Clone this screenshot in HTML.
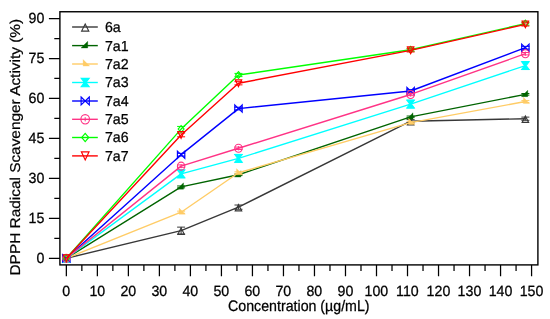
<!DOCTYPE html><html><head><meta charset="utf-8"><title>DPPH Radical Scavenger Activity</title>
<style>html,body{margin:0;padding:0;background:#fff;overflow:hidden;}svg{display:block;}text{text-rendering:geometricPrecision;font-family:"Liberation Sans",Arial,sans-serif;font-size:14.2px;fill:#000;stroke:#000;stroke-width:0.25;}</style></head><body>
<svg width="550" height="319" viewBox="0 0 550 319">
<rect width="550" height="319" fill="#fff"/>
<g>
<polyline points="66.35,258.30 181.11,230.59 238.48,207.15 410.62,121.24 525.37,118.71" fill="none" stroke="#383838" stroke-width="1.40" stroke-linejoin="round"/>
<polygon points="66.35,255.64 69.58,262.00 63.12,262.00" fill="none" stroke="#383838" stroke-width="1.15"/>
<path d="M181.11 227.13V234.06M177.11 227.13h8M177.11 234.06h8" stroke="#383838" stroke-width="1" fill="none"/>
<polygon points="181.11,227.93 184.34,234.30 177.88,234.30" fill="none" stroke="#383838" stroke-width="1.15"/>
<path d="M238.48 205.02V209.28M234.48 205.02h8M234.48 209.28h8" stroke="#383838" stroke-width="1" fill="none"/>
<polygon points="238.48,204.49 241.71,210.86 235.25,210.86" fill="none" stroke="#383838" stroke-width="1.15"/>
<path d="M410.62 119.64V122.84M406.62 119.64h8M406.62 122.84h8" stroke="#383838" stroke-width="1" fill="none"/>
<polygon points="410.62,118.58 413.85,124.94 407.39,124.94" fill="none" stroke="#383838" stroke-width="1.15"/>
<path d="M525.37 117.11V120.30M521.37 117.11h8M521.37 120.30h8" stroke="#383838" stroke-width="1" fill="none"/>
<polygon points="525.37,116.05 528.60,122.41 522.14,122.41" fill="none" stroke="#383838" stroke-width="1.15"/>
</g>
<g>
<polyline points="66.35,258.30 181.11,186.90 238.48,174.78 410.62,116.84 525.37,94.33" fill="none" stroke="#006400" stroke-width="1.40" stroke-linejoin="round"/>
<polygon points="68.75,254.20 68.75,260.60 62.35,260.60" fill="#006400" stroke="#006400" stroke-width="0.30"/>
<path d="M181.11 185.97V187.84M177.11 185.97h8M177.11 187.84h8" stroke="#006400" stroke-width="1" fill="none"/>
<polygon points="183.51,182.80 183.51,189.20 177.11,189.20" fill="#006400" stroke="#006400" stroke-width="0.30"/>
<path d="M238.48 173.98V175.58M234.48 173.98h8M234.48 175.58h8" stroke="#006400" stroke-width="1" fill="none"/>
<polygon points="240.88,170.68 240.88,177.08 234.48,177.08" fill="#006400" stroke="#006400" stroke-width="0.30"/>
<path d="M410.62 116.04V117.64M406.62 116.04h8M406.62 117.64h8" stroke="#006400" stroke-width="1" fill="none"/>
<polygon points="413.02,112.74 413.02,119.14 406.62,119.14" fill="#006400" stroke="#006400" stroke-width="0.30"/>
<path d="M525.37 93.53V95.13M521.37 93.53h8M521.37 95.13h8" stroke="#006400" stroke-width="1" fill="none"/>
<polygon points="527.77,90.23 527.77,96.63 521.37,96.63" fill="#006400" stroke="#006400" stroke-width="0.30"/>
</g>
<g>
<polyline points="66.35,258.30 181.11,212.21 238.48,172.79 410.62,122.57 525.37,101.52" fill="none" stroke="#FFCC66" stroke-width="1.40" stroke-linejoin="round"/>
<polygon points="64.35,254.10 70.55,260.30 64.35,260.30" fill="#FFCC66" stroke="#FFCC66" stroke-width="0.30"/>
<path d="M181.11 211.15V213.28M177.11 211.15h8M177.11 213.28h8" stroke="#FFCC66" stroke-width="1" fill="none"/>
<polygon points="179.11,208.01 185.31,214.21 179.11,214.21" fill="#FFCC66" stroke="#FFCC66" stroke-width="0.30"/>
<path d="M238.48 171.85V173.72M234.48 171.85h8M234.48 173.72h8" stroke="#FFCC66" stroke-width="1" fill="none"/>
<polygon points="236.48,168.59 242.68,174.79 236.48,174.79" fill="#FFCC66" stroke="#FFCC66" stroke-width="0.30"/>
<path d="M410.62 121.64V123.50M406.62 121.64h8M406.62 123.50h8" stroke="#FFCC66" stroke-width="1" fill="none"/>
<polygon points="408.62,118.37 414.82,124.57 408.62,124.57" fill="#FFCC66" stroke="#FFCC66" stroke-width="0.30"/>
<path d="M525.37 100.59V102.46M521.37 100.59h8M521.37 102.46h8" stroke="#FFCC66" stroke-width="1" fill="none"/>
<polygon points="523.37,97.32 529.57,103.52 523.37,103.52" fill="#FFCC66" stroke="#FFCC66" stroke-width="0.30"/>
</g>
<g>
<polyline points="66.35,258.30 181.11,173.85 238.48,158.40 410.62,104.05 525.37,65.56" fill="none" stroke="#00FFFF" stroke-width="1.40" stroke-linejoin="round"/>
<polygon points="62.74,254.50 69.96,254.50 67.11,258.30 69.96,262.10 62.74,262.10 65.59,258.30" fill="#00FFFF" stroke="#00FFFF" stroke-width="1.15"/>
<path d="M181.11 169.86V177.85M177.11 169.86h8M177.11 177.85h8" stroke="#00FFFF" stroke-width="1" fill="none"/>
<polygon points="177.50,170.05 184.72,170.05 181.87,173.85 184.72,177.65 177.50,177.65 180.35,173.85" fill="#00FFFF" stroke="#00FFFF" stroke-width="1.15"/>
<path d="M238.48 154.40V162.40M234.48 154.40h8M234.48 162.40h8" stroke="#00FFFF" stroke-width="1" fill="none"/>
<polygon points="234.87,154.60 242.09,154.60 239.24,158.40 242.09,162.20 234.87,162.20 237.72,158.40" fill="#00FFFF" stroke="#00FFFF" stroke-width="1.15"/>
<path d="M410.62 100.06V108.05M406.62 100.06h8M406.62 108.05h8" stroke="#00FFFF" stroke-width="1" fill="none"/>
<polygon points="407.01,100.25 414.23,100.25 411.38,104.05 414.23,107.85 407.01,107.85 409.86,104.05" fill="#00FFFF" stroke="#00FFFF" stroke-width="1.15"/>
<path d="M525.37 61.56V69.56M521.37 61.56h8M521.37 69.56h8" stroke="#00FFFF" stroke-width="1" fill="none"/>
<polygon points="521.76,61.76 528.98,61.76 526.13,65.56 528.98,69.36 521.76,69.36 524.61,65.56" fill="#00FFFF" stroke="#00FFFF" stroke-width="1.15"/>
</g>
<g>
<polyline points="66.35,258.30 181.11,154.67 238.48,108.58 410.62,91.00 525.37,47.71" fill="none" stroke="#0000FF" stroke-width="1.40" stroke-linejoin="round"/>
<polygon points="62.64,254.69 66.35,258.30 62.64,261.91" fill="none" stroke="#0000FF" stroke-width="1.15"/><polygon points="70.05,254.69 66.35,258.30 70.05,261.91" fill="none" stroke="#0000FF" stroke-width="1.15"/>
<path d="M177.11 153.34h8M177.11 156.00h8" stroke="#0000FF" stroke-width="1" fill="none"/>
<polygon points="177.40,151.06 181.11,154.67 177.40,158.28" fill="none" stroke="#0000FF" stroke-width="1.15"/><polygon points="184.81,151.06 181.11,154.67 184.81,158.28" fill="none" stroke="#0000FF" stroke-width="1.15"/>
<path d="M234.48 107.25h8M234.48 109.92h8" stroke="#0000FF" stroke-width="1" fill="none"/>
<polygon points="234.78,104.97 238.48,108.58 234.78,112.19" fill="none" stroke="#0000FF" stroke-width="1.15"/><polygon points="242.19,104.97 238.48,108.58 242.19,112.19" fill="none" stroke="#0000FF" stroke-width="1.15"/>
<path d="M406.62 89.67h8M406.62 92.33h8" stroke="#0000FF" stroke-width="1" fill="none"/>
<polygon points="406.91,87.39 410.62,91.00 406.91,94.61" fill="none" stroke="#0000FF" stroke-width="1.15"/><polygon points="414.32,87.39 410.62,91.00 414.32,94.61" fill="none" stroke="#0000FF" stroke-width="1.15"/>
<path d="M521.37 46.38h8M521.37 49.04h8" stroke="#0000FF" stroke-width="1" fill="none"/>
<polygon points="521.67,44.10 525.37,47.71 521.67,51.32" fill="none" stroke="#0000FF" stroke-width="1.15"/><polygon points="529.08,44.10 525.37,47.71 529.08,51.32" fill="none" stroke="#0000FF" stroke-width="1.15"/>
</g>
<g>
<polyline points="66.35,258.30 181.11,166.13 238.48,148.28 410.62,94.46 525.37,53.70" fill="none" stroke="#FF3385" stroke-width="1.40" stroke-linejoin="round"/>
<ellipse cx="66.35" cy="258.30" rx="3.69" ry="4.00" fill="none" stroke="#FF3385" stroke-width="1.15"/><path d="M66.35 256.20v4.2" stroke="#FF3385" stroke-width="1"/>
<path d="M177.11 164.93h8M177.11 167.32h8" stroke="#FF3385" stroke-width="1" fill="none"/>
<ellipse cx="181.11" cy="166.13" rx="3.69" ry="4.00" fill="none" stroke="#FF3385" stroke-width="1.15"/><path d="M181.11 164.03v4.2" stroke="#FF3385" stroke-width="1"/>
<path d="M234.48 147.08h8M234.48 149.48h8" stroke="#FF3385" stroke-width="1" fill="none"/>
<ellipse cx="238.48" cy="148.28" rx="3.69" ry="4.00" fill="none" stroke="#FF3385" stroke-width="1.15"/><path d="M238.48 146.18v4.2" stroke="#FF3385" stroke-width="1"/>
<path d="M406.62 93.27h8M406.62 95.66h8" stroke="#FF3385" stroke-width="1" fill="none"/>
<ellipse cx="410.62" cy="94.46" rx="3.69" ry="4.00" fill="none" stroke="#FF3385" stroke-width="1.15"/><path d="M410.62 92.36v4.2" stroke="#FF3385" stroke-width="1"/>
<path d="M521.37 52.51h8M521.37 54.90h8" stroke="#FF3385" stroke-width="1" fill="none"/>
<ellipse cx="525.37" cy="53.70" rx="3.69" ry="4.00" fill="none" stroke="#FF3385" stroke-width="1.15"/><path d="M525.37 51.60v4.2" stroke="#FF3385" stroke-width="1"/>
</g>
<g>
<polyline points="66.35,258.30 181.11,129.10 238.48,75.02 410.62,49.71 525.37,23.60" fill="none" stroke="#00FF00" stroke-width="1.40" stroke-linejoin="round"/>
<polygon points="66.35,254.91 69.30,258.30 66.35,261.69 63.40,258.30" fill="none" stroke="#00FF00" stroke-width="1.15"/>
<path d="M177.11 126.43h8M177.11 131.76h8" stroke="#00FF00" stroke-width="1" fill="none"/>
<polygon points="181.11,125.71 184.05,129.10 181.11,132.48 178.16,129.10" fill="none" stroke="#00FF00" stroke-width="1.15"/>
<path d="M234.48 73.42h8M234.48 76.62h8" stroke="#00FF00" stroke-width="1" fill="none"/>
<polygon points="238.48,71.63 241.43,75.02 238.48,78.40 235.54,75.02" fill="none" stroke="#00FF00" stroke-width="1.15"/>
<path d="M406.62 48.11h8M406.62 51.31h8" stroke="#00FF00" stroke-width="1" fill="none"/>
<polygon points="410.62,46.32 413.56,49.71 410.62,53.10 407.67,49.71" fill="none" stroke="#00FF00" stroke-width="1.15"/>
<path d="M521.37 22.00h8M521.37 25.20h8" stroke="#00FF00" stroke-width="1" fill="none"/>
<polygon points="525.37,20.21 528.32,23.60 525.37,26.99 522.42,23.60" fill="none" stroke="#00FF00" stroke-width="1.15"/>
</g>
<g>
<polyline points="66.35,258.30 181.11,134.96 238.48,83.28 410.62,50.37 525.37,24.40" fill="none" stroke="#FF0000" stroke-width="1.40" stroke-linejoin="round"/>
<polygon points="66.35,261.64 69.56,254.87 63.14,254.87" fill="none" stroke="#FF0000" stroke-width="1.15"/>
<path d="M177.11 133.09h8M177.11 136.82h8" stroke="#FF0000" stroke-width="1" fill="none"/>
<polygon points="181.11,138.30 184.32,131.52 177.89,131.52" fill="none" stroke="#FF0000" stroke-width="1.15"/>
<path d="M234.48 81.68h8M234.48 84.87h8" stroke="#FF0000" stroke-width="1" fill="none"/>
<polygon points="238.48,86.62 241.70,79.84 235.27,79.84" fill="none" stroke="#FF0000" stroke-width="1.15"/>
<path d="M406.62 48.78h8M406.62 51.97h8" stroke="#FF0000" stroke-width="1" fill="none"/>
<polygon points="410.62,53.72 413.83,46.94 407.40,46.94" fill="none" stroke="#FF0000" stroke-width="1.15"/>
<path d="M521.37 22.80h8M521.37 26.00h8" stroke="#FF0000" stroke-width="1" fill="none"/>
<polygon points="525.37,27.74 528.58,20.97 522.16,20.97" fill="none" stroke="#FF0000" stroke-width="1.15"/>
</g>
<rect x="59.90" y="11.75" width="478.00" height="253.15" fill="none" stroke="#000" stroke-width="1.40"/>
<path d="M66.35 264.90v11.30M81.86 264.90v6.00M97.36 264.90v11.30M112.87 264.90v6.00M128.38 264.90v11.30M143.89 264.90v6.00M159.39 264.90v11.30M174.90 264.90v6.00M190.41 264.90v11.30M205.92 264.90v6.00M221.43 264.90v11.30M236.93 264.90v6.00M252.44 264.90v11.30M267.95 264.90v6.00M283.46 264.90v11.30M298.96 264.90v6.00M314.47 264.90v11.30M329.98 264.90v6.00M345.49 264.90v11.30M360.99 264.90v6.00M376.50 264.90v11.30M392.01 264.90v6.00M407.51 264.90v11.30M423.02 264.90v6.00M438.53 264.90v11.30M454.04 264.90v6.00M469.54 264.90v11.30M485.05 264.90v6.00M500.56 264.90v11.30M516.07 264.90v6.00M531.58 264.90v11.30M59.90 258.30h-11.00M59.90 238.32h-5.60M59.90 218.34h-11.00M59.90 198.36h-5.60M59.90 178.38h-11.00M59.90 158.40h-5.60M59.90 138.42h-11.00M59.90 118.44h-5.60M59.90 98.46h-11.00M59.90 78.48h-5.60M59.90 58.50h-11.00M59.90 38.52h-5.60M59.90 18.54h-11.00" stroke="#000" stroke-width="1.25" fill="none"/>
<text transform="translate(66.25 296.20) scale(1 1.04)" text-anchor="middle">0</text>
<text transform="translate(97.27 296.20) scale(1 1.04)" text-anchor="middle">10</text>
<text transform="translate(128.28 296.20) scale(1 1.04)" text-anchor="middle">20</text>
<text transform="translate(159.29 296.20) scale(1 1.04)" text-anchor="middle">30</text>
<text transform="translate(190.31 296.20) scale(1 1.04)" text-anchor="middle">40</text>
<text transform="translate(221.33 296.20) scale(1 1.04)" text-anchor="middle">50</text>
<text transform="translate(252.34 296.20) scale(1 1.04)" text-anchor="middle">60</text>
<text transform="translate(283.36 296.20) scale(1 1.04)" text-anchor="middle">70</text>
<text transform="translate(314.37 296.20) scale(1 1.04)" text-anchor="middle">80</text>
<text transform="translate(345.38 296.20) scale(1 1.04)" text-anchor="middle">90</text>
<text transform="translate(376.40 296.20) scale(1 1.04)" text-anchor="middle">100</text>
<text transform="translate(407.41 296.20) scale(1 1.04)" text-anchor="middle">110</text>
<text transform="translate(438.43 296.20) scale(1 1.04)" text-anchor="middle">120</text>
<text transform="translate(469.44 296.20) scale(1 1.04)" text-anchor="middle">130</text>
<text transform="translate(500.46 296.20) scale(1 1.04)" text-anchor="middle">140</text>
<text transform="translate(531.48 296.20) scale(1 1.04)" text-anchor="middle">150</text>
<text transform="translate(44.30 263.10) scale(1 1.04)" text-anchor="end">0</text>
<text transform="translate(44.30 223.14) scale(1 1.04)" text-anchor="end">15</text>
<text transform="translate(44.30 183.18) scale(1 1.04)" text-anchor="end">30</text>
<text transform="translate(44.30 143.22) scale(1 1.04)" text-anchor="end">45</text>
<text transform="translate(44.30 103.26) scale(1 1.04)" text-anchor="end">60</text>
<text transform="translate(44.30 63.30) scale(1 1.04)" text-anchor="end">75</text>
<text transform="translate(44.30 23.34) scale(1 1.04)" text-anchor="end">90</text>
<text transform="translate(298.80 310.95) scale(1 1.075)" text-anchor="middle">Concentration (µg/mL)</text>
<text transform="translate(20.4 147.2) rotate(-90) scale(1 0.925)" text-anchor="middle" style="font-size:15.4px">DPPH Radical Scavenger Activity (%)</text>
<g>
<line x1="72.1" y1="27.00" x2="97.8" y2="27.00" stroke="#383838" stroke-width="1.40"/>
<polygon points="85.20,24.06 88.77,31.09 81.63,31.09" fill="none" stroke="#383838" stroke-width="1.15"/>
<text transform="translate(104.90 31.90) scale(1 1.02)" text-anchor="start">6a</text>
</g>
<g>
<line x1="72.1" y1="45.60" x2="97.8" y2="45.60" stroke="#006400" stroke-width="1.40"/>
<polygon points="87.72,41.30 87.72,48.02 81.00,48.02" fill="#006400" stroke="#006400" stroke-width="0.30"/>
<text transform="translate(104.90 50.50) scale(1 1.02)" text-anchor="start">7a1</text>
</g>
<g>
<line x1="72.1" y1="64.00" x2="97.8" y2="64.00" stroke="#FFCC66" stroke-width="1.40"/>
<polygon points="83.10,59.59 89.61,66.10 83.10,66.10" fill="#FFCC66" stroke="#FFCC66" stroke-width="0.30"/>
<text transform="translate(104.90 68.90) scale(1 1.02)" text-anchor="start">7a2</text>
</g>
<g>
<line x1="72.1" y1="82.50" x2="97.8" y2="82.50" stroke="#00FFFF" stroke-width="1.40"/>
<polygon points="81.21,78.30 89.19,78.30 86.04,82.50 89.19,86.70 81.21,86.70 84.36,82.50" fill="#00FFFF" stroke="#00FFFF" stroke-width="1.15"/>
<text transform="translate(104.90 87.40) scale(1 1.02)" text-anchor="start">7a3</text>
</g>
<g>
<line x1="72.1" y1="101.00" x2="97.8" y2="101.00" stroke="#0000FF" stroke-width="1.40"/>
<polygon points="81.11,97.01 85.20,101.00 81.11,104.99" fill="none" stroke="#0000FF" stroke-width="1.15"/><polygon points="89.30,97.01 85.20,101.00 89.30,104.99" fill="none" stroke="#0000FF" stroke-width="1.15"/>
<text transform="translate(104.90 105.90) scale(1 1.02)" text-anchor="start">7a4</text>
</g>
<g>
<line x1="72.1" y1="119.30" x2="97.8" y2="119.30" stroke="#FF3385" stroke-width="1.40"/>
<ellipse cx="85.20" cy="119.30" rx="4.30" ry="4.67" fill="none" stroke="#FF3385" stroke-width="1.15"/><path d="M85.20 117.20v4.2" stroke="#FF3385" stroke-width="1"/>
<text transform="translate(104.90 124.20) scale(1 1.02)" text-anchor="start">7a5</text>
</g>
<g>
<line x1="72.1" y1="137.50" x2="97.8" y2="137.50" stroke="#00FF00" stroke-width="1.40"/>
<polygon points="85.20,133.46 88.72,137.50 85.20,141.54 81.68,137.50" fill="none" stroke="#00FF00" stroke-width="1.15"/>
<text transform="translate(104.90 142.40) scale(1 1.02)" text-anchor="start">7a6</text>
</g>
<g>
<line x1="72.1" y1="155.90" x2="97.8" y2="155.90" stroke="#FF0000" stroke-width="1.40"/>
<polygon points="85.20,159.89 89.03,151.81 81.37,151.81" fill="none" stroke="#FF0000" stroke-width="1.15"/>
<text transform="translate(104.90 160.80) scale(1 1.02)" text-anchor="start">7a7</text>
</g>
</svg></body></html>
